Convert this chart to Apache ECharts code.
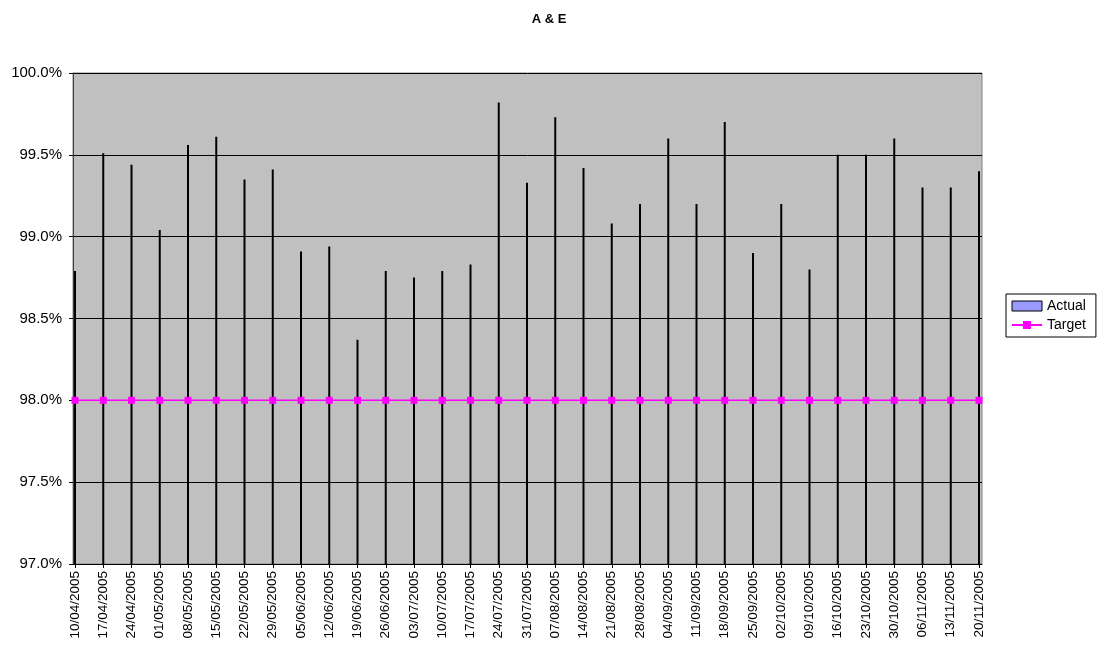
<!DOCTYPE html>
<html>
<head>
<meta charset="utf-8">
<script src="https://cdn.jsdelivr.net/npm/echarts@6/dist/echarts.min.js"></script>
<style>html,body{margin:0;padding:0;background:#fff}#c{width:1098px;height:655px}</style>
</head>
<body>
<div id="c"></div>
<script>
var categories = ['10/04/2005','17/04/2005','24/04/2005','01/05/2005','08/05/2005','15/05/2005','22/05/2005','29/05/2005','05/06/2005','12/06/2005','19/06/2005','26/06/2005','03/07/2005','10/07/2005','17/07/2005','24/07/2005','31/07/2005','07/08/2005','14/08/2005','21/08/2005','28/08/2005','04/09/2005','11/09/2005','18/09/2005','25/09/2005','02/10/2005','09/10/2005','16/10/2005','23/10/2005','30/10/2005','06/11/2005','13/11/2005','20/11/2005'];
var actual = [98.79,99.51,99.44,99.04,99.56,99.61,99.35,99.41,98.91,98.94,98.37,98.79,98.75,98.79,98.83,99.82,99.33,99.73,99.42,99.08,99.20,99.60,99.20,99.70,98.90,99.20,98.80,99.50,99.50,99.60,99.30,99.30,99.40];
var target = [98,98,98,98,98,98,98,98,98,98,98,98,98,98,98,98,98,98,98,98,98,98,98,98,98,98,98,98,98,98,98,98,98];
var yMin = 97, yMax = 100, yStep = 0.5;

var chart = echarts.init(document.getElementById('c'), null, {renderer: 'canvas'});
var font = 'Liberation Sans, Arial, sans-serif';
chart.setOption({
  animation: false,
  backgroundColor: '#ffffff',
  title: {
    text: 'A & E', left: 'center', top: 8,
    textStyle: {fontFamily: font, fontSize: 13, fontWeight: 'bold', color: '#000'}
  },
  legend: {
    orient: 'vertical', left: 1006, top: 294,
    backgroundColor: '#fff', borderColor: '#000', borderWidth: 1,
    padding: [5, 10, 5, 5], itemGap: 5, itemWidth: 30, itemHeight: 10,
    textStyle: {fontFamily: font, fontSize: 14, color: '#000'},
    data: [
      {name: 'Actual', icon: 'rect', itemStyle: {color: '#9999FF', borderColor: '#000', borderWidth: 1}},
      {name: 'Target'}
    ]
  },
  grid: [
    {left: 73, right: 116, top: 73, bottom: 91, show: true, backgroundColor: '#C0C0C0', borderColor: '#808080', borderWidth: 1},
    {left: 75, right: 119, top: 73, bottom: 91}
  ],
  xAxis: [
    {gridIndex: 0, type: 'value', min: 0, max: 1, axisLabel: {show: false}, axisTick: {show: false}, splitLine: {show: false},
     axisLine: {show: true, lineStyle: {color: '#000', width: 1}}},
    {gridIndex: 1, type: 'category', data: categories, boundaryGap: false,
     axisLine: {show: false},
     axisTick: {show: true, alignWithLabel: true, length: 4, lineStyle: {color: '#000'}},
     axisLabel: {rotate: 90, interval: 0, margin: 7, fontFamily: font, fontSize: 13.5, color: '#000'}}
  ],
  yAxis: [
    {gridIndex: 0, type: 'value', min: yMin, max: yMax, interval: yStep,
     axisLine: {show: true, lineStyle: {color: '#404040'}},
     axisTick: {show: true, length: 4, lineStyle: {color: '#000'}},
     axisLabel: {margin: 11, fontFamily: font, fontSize: 15, color: '#000', formatter: function (v) { return v.toFixed(1) + '%'; }},
     splitLine: {show: true, lineStyle: {color: '#000', width: 1}}},
    {gridIndex: 1, type: 'value', min: yMin, max: yMax, interval: yStep, show: false}
  ],
  series: [
    {name: 'Actual', type: 'bar', xAxisIndex: 1, yAxisIndex: 1, data: actual, barWidth: 2,
     itemStyle: {color: '#9999FF', borderColor: '#000', borderWidth: 1.5}},
    {name: 'Target', type: 'line', xAxisIndex: 1, yAxisIndex: 1, data: target,
     symbol: 'rect', symbolSize: 7, lineStyle: {color: '#FF00FF', width: 1.5},
     itemStyle: {color: '#FF00FF'}}
  ]
});
</script>
</body>
</html>
